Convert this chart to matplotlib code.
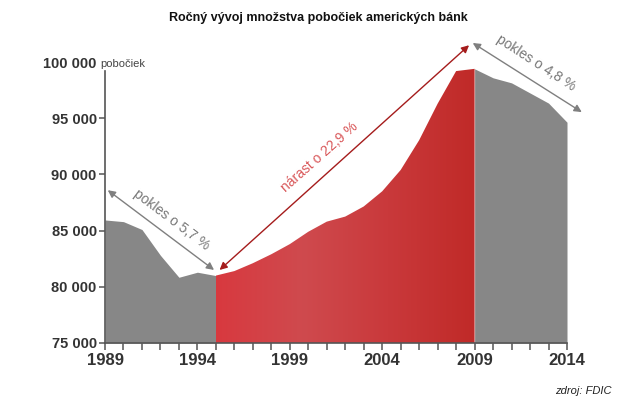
import numpy as np
import matplotlib
matplotlib.use("Agg")
import matplotlib.pyplot as plt
from matplotlib.colors import LinearSegmentedColormap
from matplotlib.patches import Polygon

plt.rcParams['font.family'] = ['Liberation Sans', 'DejaVu Sans']

title = "Ročný vývoj množstva pobočiek amerických bánk"
years = list(range(1989, 2015))
branches = [85950, 85800, 85100, 82800, 80850, 81300, 81000, 81400, 82100, 82900,
            83800, 84900, 85800, 86250, 87150, 88500, 90400, 93050, 96300, 99200,
            99400, 98600, 98150, 97250, 96350, 94650]
growth_start, growth_end = 1995, 2009
xtick_years = [1989, 1994, 1999, 2004, 2009, 2014]
yticks = [75000, 80000, 85000, 90000, 95000, 100000]
ytick_labels = ["75 000", "80 000", "85 000", "90 000", "95 000", "100 000"]
unit_label = "pobočiek"
ann1 = "pokles o 5,7 %"
ann2 = "nárast o 22,9 %"
ann3 = "pokles o 4,8 %"
source = "zdroj: FDIC"

x = np.array(years, dtype=float)
y = np.array(branches, dtype=float)

fig = plt.figure(figsize=(6.2, 4.08), dpi=100)
ax = fig.add_axes([105/620, 65/408, (567-105)/620, (343-34)/408])
ymin, ymax = 75000, 102500
ax.set_xlim(1989, 2014)
ax.set_ylim(ymin, ymax)

gray = '#878787'
m1 = x <= growth_start
ax.fill_between(x[m1], ymin, y[m1], color=gray, lw=0, zorder=2)
m3 = x >= growth_end
ax.fill_between(x[m3], ymin, y[m3], color=gray, lw=0, zorder=2)

m2 = (x >= growth_start) & (x <= growth_end)
xs, ys = x[m2], y[m2]
poly_pts = np.vstack([np.column_stack([xs, ys]), [[xs[-1], ymin], [xs[0], ymin]]])
poly = Polygon(poly_pts, closed=True, facecolor='none', edgecolor='none')
ax.add_patch(poly)
cmap = LinearSegmentedColormap.from_list('r', ['#d8393f', '#cf4a4e', '#c9393b', '#c02a28'])
grad = np.linspace(0, 1, 256).reshape(1, -1)
im = ax.imshow(grad, cmap=cmap, aspect='auto', extent=(growth_start, growth_end, ymin, 100000),
               origin='lower', zorder=2, interpolation='bilinear')
im.set_clip_path(poly)

for s in ['top', 'right']:
    ax.spines[s].set_visible(False)
for s in ['left', 'bottom']:
    ax.spines[s].set_color('#555555')
    ax.spines[s].set_linewidth(1.2)
    ax.spines[s].set_zorder(3)
ax.spines['left'].set_bounds(ymin, 99200)

ax.set_xticks(years, minor=True)
ax.set_xticks(xtick_years)
ax.set_xticklabels([str(v) for v in xtick_years], fontsize=12, fontweight='bold', color='#333333')
ax.tick_params(axis='x', which='both', direction='out', length=5, width=1.1, color='#555555', pad=2)
ax.set_yticks(yticks)
ax.set_yticklabels(ytick_labels, fontsize=10.5, fontweight='bold', color='#333333')
ax.tick_params(axis='y', direction='out', length=4, width=1.1, color='#555555', pad=2)
ax.yaxis.get_major_ticks()[-1].tick1line.set_visible(False)
ax.text(1988.75, 99850, unit_label, fontsize=8, color='#444444', va='center', ha='left')

def arrow(p0, p1, color):
    ax.annotate('', xy=p1, xytext=p0,
                arrowprops=dict(arrowstyle='<|-|>', color=color, lw=1.0,
                                mutation_scale=11, shrinkA=0, shrinkB=0),
                annotation_clip=False, zorder=5)

arrow((1989.15, 88600), (1994.9, 81500), '#7f7f7f')
arrow((1995.2, 81500), (2008.7, 101500), '#a51c1c')
arrow((2008.9, 101700), (2014.8, 95550), '#7f7f7f')

ax.text(1992.62, 85940, ann1, rotation=-37, rotation_mode='anchor', fontsize=10,
        color='#777777', ha='center', va='center')
ax.text(2000.62, 91550, ann2, rotation=41.6, rotation_mode='anchor', fontsize=10,
        color='#d9585a', ha='center', va='center')
ax.text(2012.35, 99900, ann3, rotation=-33, rotation_mode='anchor', fontsize=10,
        color='#777777', ha='center', va='center', clip_on=False)

fig.text(318/620, 1 - 18/408, title, fontsize=9, fontweight='bold', ha='center', va='center',
         color='#111111')
fig.text(612/620, 1 - 391/408, source, fontsize=8, style='italic', ha='right', va='center',
         color='#222222')

fig.savefig('out.png', dpi=100)
